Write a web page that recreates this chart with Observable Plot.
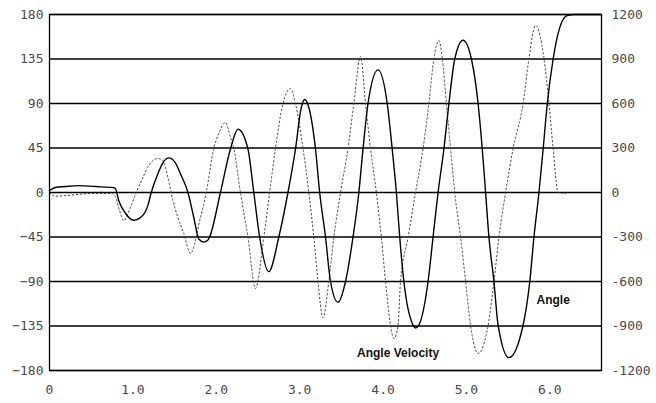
<!DOCTYPE html>
<html>
<head>
<meta charset="utf-8">
<script src="https://cdn.jsdelivr.net/npm/d3@7"></script>
<script src="https://cdn.jsdelivr.net/npm/@observablehq/plot@0.6"></script>
<style>
  html, body { margin: 0; padding: 0; background: #fff; }
  #chart svg { display: block; }
</style>
</head>
<body>
<div id="chart"></div>
<script>
// Time axis (s)
const xTicks = [0, 1, 2, 3, 4, 5, 6];
const xTickLabels = ["0", "1.0", "2.0", "3.0", "4.0", "5.0", "6.0"];
// Left axis: angle (deg)
const angleTicks = [-180, -135, -90, -45, 0, 45, 90, 135, 180];
// Right axis: angle velocity (deg/s)
const velTicks = [-1200, -900, -600, -300, 0, 300, 600, 900, 1200];

// Angle series (solid)
const angleT = [0.00,0.07,0.19,0.35,0.55,0.76,0.79,0.83,0.91,1.01,1.12,1.18,1.22,1.30,1.36,1.43,1.51,1.57,1.66,1.73,1.79,1.85,1.90,1.92,2.05,2.17,2.26,2.38,2.45,2.52,2.63,2.75,2.86,2.95,3.02,3.06,3.11,3.19,3.24,3.31,3.37,3.46,3.55,3.64,3.71,3.76,3.82,3.94,4.05,4.11,4.16,4.20,4.25,4.36,4.39,4.43,4.54,4.60,4.66,4.73,4.79,4.86,4.96,5.06,5.14,5.19,5.23,5.27,5.33,5.38,5.51,5.68,5.76,5.81,5.87,5.92,5.97,6.04,6.12,6.21,6.30,6.61];
const angleV = [2,5,6,7,6,5,4,-8,-21,-28,-23,-13,0,19,30,35,30,19,0,-25,-47,-50,-48,-45,0,44,64,44,0,-45,-80,-45,0,44,86,94,86,44,0,-45,-90,-111,-90,-45,0,44,90,124,90,44,0,-45,-90,-134,-137,-134,-90,-45,0,44,90,135,154,135,90,44,0,-45,-90,-134,-167,-134,-90,-45,0,44,90,135,167,179,180,180];

// Angle velocity series (dotted), deg/s
const velT = [0.00,0.07,0.25,0.49,0.76,0.79,0.84,0.89,0.97,1.04,1.12,1.19,1.30,1.36,1.42,1.48,1.54,1.61,1.69,1.81,1.88,1.97,2.03,2.11,2.17,2.21,2.29,2.38,2.47,2.57,2.64,2.71,2.80,2.89,2.95,3.04,3.11,3.17,3.22,3.28,3.35,3.41,3.49,3.58,3.65,3.73,3.79,3.85,3.92,3.98,4.03,4.09,4.13,4.18,4.21,4.30,4.39,4.48,4.55,4.61,4.67,4.71,4.76,4.81,4.86,4.93,4.99,5.05,5.14,5.26,5.33,5.39,5.47,5.56,5.68,5.75,5.83,5.93,5.99,6.04,6.10,6.19,6.29];
const velV = [0,-25,-18,-7,-7,-27,-121,-189,-101,0,101,182,229,216,101,-54,-169,-276,-411,-169,0,297,398,472,371,297,0,-303,-647,-303,0,297,600,701,600,297,0,-303,-600,-843,-600,-303,0,297,600,917,600,297,0,-303,-600,-897,-984,-897,-600,-303,0,297,600,903,1025,903,600,297,0,-303,-600,-897,-1085,-897,-600,-303,0,297,600,903,1126,903,600,297,0,-7];

const seriesLabels = ["Angle", "Angle Velocity"];
const labelPos = [[6.04, -109], [4.18, -162]];

const velToAngle = 180 / 1200;
const angleData = angleT.map((t, i) => ({t, v: angleV[i]}));
const velData = velT.map((t, i) => ({t, v: velV[i]}));
const labelData = seriesLabels.map((s, i) => ({s, t: labelPos[i][0], v: labelPos[i][1]}));

const tickFont = "DejaVu Sans Mono, monospace";
const tickColor = "#4a4a4a";

const chart = Plot.plot({
  width: 656,
  height: 403,
  marginLeft: 49,
  marginRight: 55,
  marginTop: 14,
  marginBottom: 33,
  style: {background: "#fff", fontFamily: tickFont, fontSize: "13px", color: tickColor},
  x: {domain: [0, 6.62], axis: null},
  y: {domain: [-180, 180], axis: null},
  marks: [
    Plot.ruleY(angleTicks, {stroke: "#000", strokeWidth: 1.3}),
    Plot.axisY({anchor: "left", ticks: angleTicks, tickSize: 0, tickPadding: 6, label: null,
      fontSize: 13, fill: tickColor, fontFamily: tickFont}),
    Plot.axisY({anchor: "right", ticks: angleTicks, tickSize: 0, tickPadding: 10, label: null,
      tickFormat: d => String(velTicks[angleTicks.indexOf(d)]), fontSize: 13, fill: tickColor, fontFamily: tickFont}),
    Plot.axisX({ticks: xTicks, tickSize: 0, tickPadding: 14, label: null,
      tickFormat: d => xTickLabels[xTicks.indexOf(d)], fontSize: 13, fill: tickColor, fontFamily: tickFont}),
    Plot.line(velData, {x: "t", y: d => d.v * velToAngle, stroke: "#444", strokeWidth: 1, strokeDasharray: "1.5,2.5", curve: "monotone-x"}),
    Plot.line(angleData, {x: "t", y: "v", stroke: "#000", strokeWidth: 1.4, curve: "monotone-x"}),
    Plot.frame({stroke: "#000", strokeWidth: 1.3}),
    Plot.text(labelData, {x: "t", y: "v", text: "s", fontFamily: "Liberation Sans, Arial, sans-serif", fontSize: 12, fontWeight: "bold", fill: "#111"})
  ]
});
document.getElementById("chart").appendChild(chart);
</script>
</body>
</html>
